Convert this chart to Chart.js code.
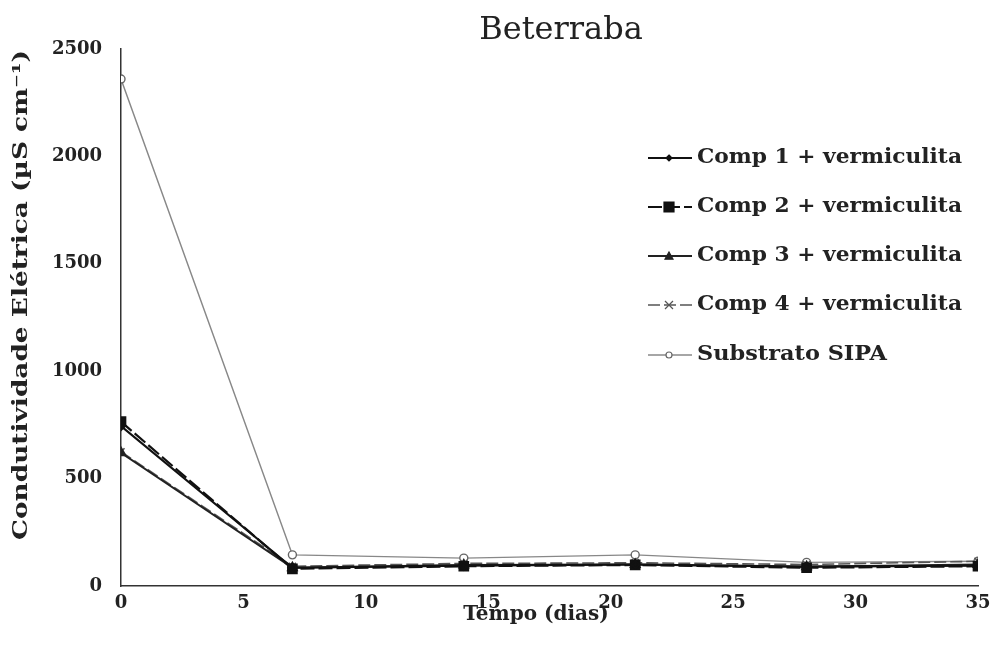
<!DOCTYPE html>
<html>
<head>
<meta charset="utf-8">
<script src="https://cdn.jsdelivr.net/npm/chart.js@4/dist/chart.umd.min.js"></script>
<style>
  html, body { margin: 0; padding: 0; background: #fff; }
  #wrap { width: 998px; height: 657px; position: relative; }
</style>
</head>
<body>
<div id="wrap"><canvas id="chart" width="998" height="657"></canvas></div>
<script>
// data
var days  = [0, 7, 14, 21, 28, 35];
var comp1 = [745, 85, 95, 100, 90, 95];
var comp2 = [765, 80, 92, 98, 85, 92];
var comp3 = [620, 85, 98, 100, 90, 100];
var comp4 = [625, 92, 105, 108, 100, 115];
var sipa  = [2360, 145, 130, 145, 110, 115];
var labels = ['Comp 1 + vermiculita', 'Comp 2 + vermiculita', 'Comp 3 + vermiculita', 'Comp 4 + vermiculita', 'Substrato SIPA'];

var SERIF = '"DejaVu Serif", "Liberation Serif", serif';

function pts(ys){
	var out = [];
	for (var i = 0; i < days.length; i++) out.push({ x: days[i], y: ys[i] });
	return out;
}

var datasets = [
	{ label: labels[0], data: pts(comp1), borderColor: '#111', backgroundColor: '#111', borderWidth: 2.2, pointStyle: 'rectRot', pointRadius: 4 },
	{ label: labels[1], data: pts(comp2), borderColor: '#111', backgroundColor: '#111', borderWidth: 2.2, borderDash: [14, 4], pointStyle: 'rect', pointRadius: 6 },
	{ label: labels[2], data: pts(comp3), borderColor: '#222', backgroundColor: '#222', borderWidth: 2, pointStyle: 'triangle', pointRadius: 5 },
	{ label: labels[3], data: pts(comp4), borderColor: '#555', backgroundColor: '#555', borderWidth: 1.6, borderDash: [12, 4], pointStyle: 'crossRot', pointRadius: 5 },
	{ label: labels[4], data: pts(sipa), borderColor: '#888', backgroundColor: '#fff', borderWidth: 1.4, pointStyle: 'circle', pointRadius: 4, pointBorderColor: '#666' }
];

// title, axis titles and legend drawn by hand to sit where the picture has them
var decor = {
	id: 'decor',
	afterDraw: function(chart){
		var ctx = chart.ctx;
		ctx.save();
		ctx.fillStyle = '#222';
		ctx.textBaseline = 'middle';

		ctx.font = '32px ' + SERIF;
		ctx.textAlign = 'center';
		ctx.fillText('Beterraba', 561, 31);

		ctx.font = 'bold 20px ' + SERIF;
		ctx.fillText('Tempo (dias)', 536, 615);

		// y title, stretched to the length in the picture
		ctx.save();
		ctx.translate(22, 295);
		ctx.rotate(-Math.PI / 2);
		ctx.font = 'bold 20px ' + SERIF;
		var yt = 'Condutividade Elétrica (µS cm⁻¹)';
		var w = ctx.measureText(yt).width;
		ctx.scale(490 / w, 1);
		ctx.fillText(yt, 0, 0);
		ctx.restore();

		// legend
		var rows = [158, 207, 256, 305, 355];
		ctx.textAlign = 'left';
		ctx.font = 'bold 20px ' + SERIF;
		for (var i = 0; i < datasets.length; i++){
			var d = datasets[i], y = rows[i], r = Math.max(3, d.pointRadius - 1);
			ctx.save();
			ctx.strokeStyle = d.borderColor;
			ctx.lineWidth = d.borderWidth;
			ctx.setLineDash(d.borderDash || []);
			ctx.beginPath();
			ctx.moveTo(648, y);
			ctx.lineTo(692, y);
			ctx.stroke();
			ctx.restore();

			ctx.save();
			ctx.fillStyle = d.backgroundColor;
			ctx.strokeStyle = d.pointBorderColor || d.borderColor;
			ctx.lineWidth = 1.2;
			ctx.beginPath();
			if (d.pointStyle === 'rect') { ctx.rect(669 - r, y - r, 2 * r, 2 * r); }
			else if (d.pointStyle === 'circle') { ctx.arc(669, y, r, 0, Math.PI * 2); }
			else if (d.pointStyle === 'triangle') { ctx.moveTo(669, y - r); ctx.lineTo(669 + r, y + r * 0.8); ctx.lineTo(669 - r, y + r * 0.8); ctx.closePath(); }
			else if (d.pointStyle === 'rectRot') { ctx.moveTo(669, y - r); ctx.lineTo(669 + r, y); ctx.lineTo(669, y + r); ctx.lineTo(669 - r, y); ctx.closePath(); }
			else { ctx.moveTo(669 - r, y - r); ctx.lineTo(669 + r, y + r); ctx.moveTo(669 + r, y - r); ctx.lineTo(669 - r, y + r); }
			if (d.pointStyle !== 'crossRot') ctx.fill();
			ctx.stroke();
			ctx.restore();

			var tw = ctx.measureText(d.label).width;
			ctx.save();
			ctx.translate(697, y);
			var target = (i === 4) ? 190 : 265;
			ctx.scale(target / tw, 1);
			ctx.fillStyle = '#222';
			ctx.fillText(d.label, 0, 0);
			ctx.restore();
		}
		ctx.restore();
	}
};

new Chart(document.getElementById('chart').getContext('2d'), {
	type: 'line',
	data: { datasets: datasets },
	options: {
		responsive: false,
		animation: false,
		layout: { padding: { top: 49, right: 20, left: 0, bottom: 0 } },
		plugins: { legend: { display: false }, title: { display: false }, tooltip: { enabled: false } },
		elements: { line: { tension: 0 } },
		scales: {
			x: {
				type: 'linear', min: 0, max: 35,
				ticks: { stepSize: 5, color: '#222', padding: 1, font: { family: SERIF, size: 18, weight: 'bold' },
					callback: function(v){ return String(v); } },
				grid: { display: false, drawTicks: true, tickLength: 6, tickColor: '#333' },
				border: { color: '#333', width: 1.5 },
				afterFit: function(s){ s.height = 71; }
			},
			y: {
				min: 0, max: 2500,
				ticks: { stepSize: 500, color: '#222', padding: 12, font: { family: SERIF, size: 18, weight: 'bold' },
					callback: function(v){ return String(v); } },
				grid: { display: false, drawTicks: true, tickLength: 7, tickColor: '#333' },
				border: { color: '#333', width: 1.5 },
				afterFit: function(s){ s.width = 121; }
			}
		}
	},
	plugins: [decor]
});
</script>
</body>
</html>
